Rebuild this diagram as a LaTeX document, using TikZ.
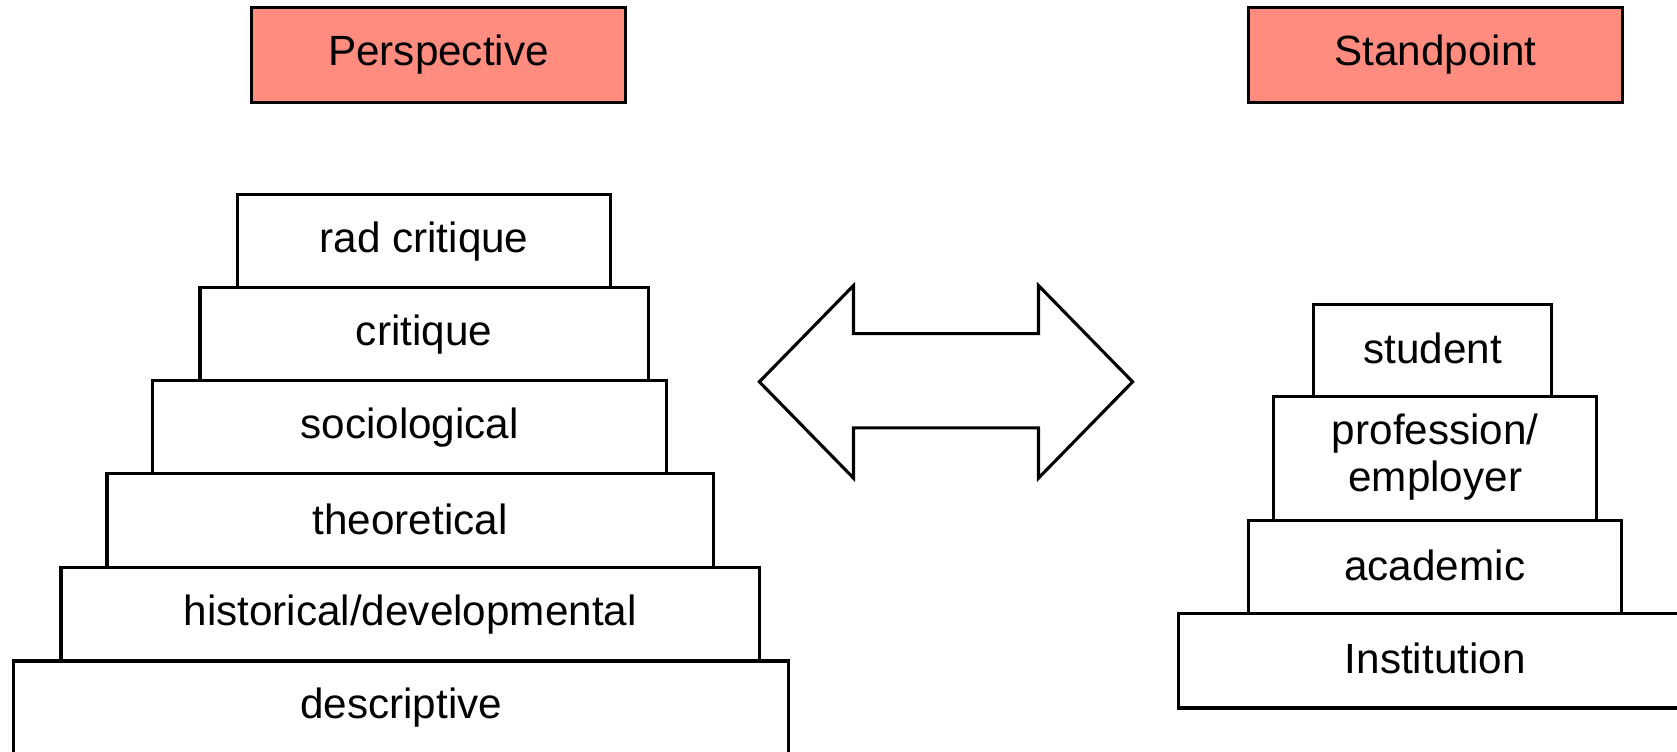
\documentclass[tikz,border=0pt]{standalone}
\usepackage{fontspec}
\setmainfont{Liberation Sans}
\definecolor{salmon}{HTML}{FF8C7E}
\newcommand{\up}[2]{\raisebox{#1pt}{#2}}
\begin{document}
\begin{tikzpicture}[x=1pt,y=-1pt,
  lbl/.style={font=\fontsize{39.5}{45}\selectfont},
  tier/.style={draw=black,line width=2.9pt,fill=white,inner sep=0pt,lbl,align=center},
  header/.style={tier,fill=salmon}]
\useasboundingbox (0,0) rectangle (1568,703);
% headers
\node[header,minimum width=350pt,minimum height=89pt] (persp) at (410,51.5) {\up{2}{Perspective}};
\node[header,minimum width=350pt,minimum height=89pt] (stand) at (1342,51.5) {\up{2}{Standpoint}};
% left stack
\node[tier,minimum width=724pt,minimum height=88pt] (desc) at (375,662) {\up{5}{descriptive}};
\node[tier,minimum width=653pt,minimum height=87pt] (hist) at (383.5,574.5) {\up{2}{historical/developmental}};
\node[tier,minimum width=567pt,minimum height=88pt] (theo) at (383.5,487) {\up{4}{theoretical}};
\node[tier,minimum width=480pt,minimum height=87pt] (soc) at (383,399.5) {\up{1}{sociological}};
\node[tier,minimum width=419pt,minimum height=87pt] (crit) at (396.5,312.5) {\up{1}{critique}};
\node[tier,minimum width=349pt,minimum height=87pt] (rad) at (396.5,225.5) {\up{1}{rad critique}};
% right stack
\node[tier,minimum width=480pt,minimum height=88pt] (inst) at (1342,618) {\up{6}{Institution}};
\node[tier,minimum width=349pt,minimum height=87pt] (acad) at (1341.5,530.5) {\up{5}{academic}};
\node[tier,minimum width=302pt,minimum height=116pt] (prof) at (1342,429) {\up{2}{\begin{tabular}{@{}c@{}}profession/\\[-1pt]employer\end{tabular}}};
\node[tier,minimum width=223pt,minimum height=86pt] (stud) at (1339.5,328) {\up{4}{student}};
% double arrow
\draw[line width=2.9pt,line join=miter,fill=white]
  (710,357) -- (798,267) -- (798,312) -- (971,312) -- (971,267) -- (1059,357)
  -- (971,447) -- (971,400) -- (798,400) -- (798,447) -- cycle;
\end{tikzpicture}
\end{document}
